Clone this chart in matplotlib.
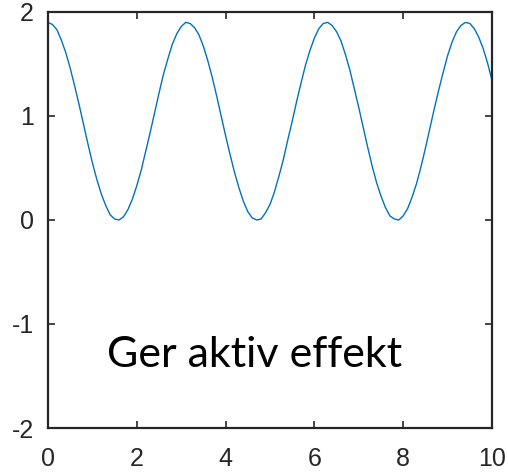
import matplotlib.pyplot as plt
import numpy as np

# active power curve, sampled every 0.1
t = np.round(np.arange(0, 10.01, 0.1), 1)
p = [1.90, 1.88, 1.83, 1.73, 1.61, 1.46, 1.29, 1.11, 0.92, 0.73,
     0.55, 0.39, 0.25, 0.14, 0.05, 0.01, 0.00, 0.03, 0.10, 0.20,
     0.33, 0.48, 0.66, 0.84, 1.03, 1.22, 1.40, 1.55, 1.69, 1.79,
     1.86, 1.90, 1.89, 1.85, 1.78, 1.67, 1.53, 1.37, 1.19, 1.00,
     0.81, 0.63, 0.46, 0.31, 0.18, 0.08, 0.02, 0.00, 0.01, 0.07,
     0.15, 0.27, 0.42, 0.58, 0.77, 0.95, 1.14, 1.32, 1.49, 1.63,
     1.75, 1.84, 1.89, 1.90, 1.87, 1.81, 1.72, 1.59, 1.44, 1.26,
     1.08, 0.89, 0.70, 0.52, 0.36, 0.23, 0.12, 0.04, 0.01, 0.00,
     0.04, 0.11, 0.22, 0.35, 0.51, 0.69, 0.88, 1.07, 1.25, 1.42,
     1.58, 1.71, 1.81, 1.87, 1.90, 1.89, 1.84, 1.76, 1.65, 1.51,
     1.34]

xticks = [0, 2, 4, 6, 8, 10]
yticks = [-2, -1, 0, 1, 2]

plt.rcParams['font.family'] = ['Liberation Sans', 'DejaVu Sans']
plt.rcParams['axes.unicode_minus'] = False

fig = plt.figure(figsize=(5.08, 4.74), dpi=100)
ax = fig.add_axes([48 / 508, 1 - 428 / 474, 444 / 508, 416 / 474])
ax.plot(t, p, color='#0072BD', lw=1.0)

ax.set_xlim(0, 10)
ax.set_ylim(-2, 2)
ax.set_xticks(xticks)
ax.set_yticks(yticks)
ax.tick_params(direction='in', length=5, width=1.2, labelsize=18, colors='#262626',
               top=True, right=True)
ax.tick_params(axis='x', pad=14)
ax.tick_params(axis='y', pad=10)
for s in ax.spines.values():
    s.set_linewidth(1.6)
    s.set_color('#262626')

ax.text(0.465, 0.175, 'Ger aktiv effekt', transform=ax.transAxes,
        ha='center', va='center', fontsize=31, family=['Lato', 'DejaVu Sans'])

fig.savefig('out.png', dpi=100)
